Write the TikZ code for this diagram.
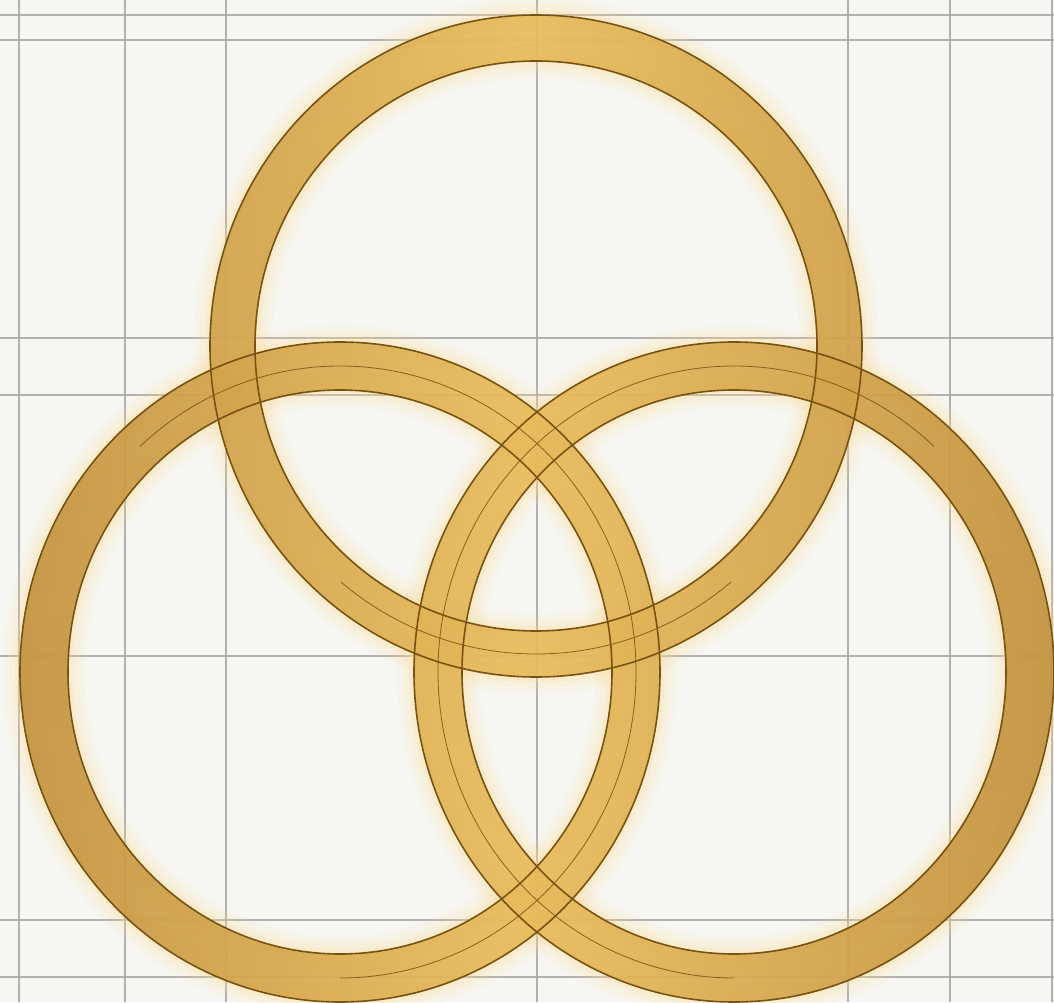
\documentclass[tikz,border=0pt]{standalone}
\usetikzlibrary{calc}
\definecolor{bg}{HTML}{F6F6F3}
\definecolor{gridc}{HTML}{A6A6A6}
\definecolor{goldlight}{HTML}{E8BC5C}
\definecolor{goldmid}{HTML}{BE8D3C}
\definecolor{golddark}{HTML}{A6772E}
\definecolor{edge}{HTML}{785212}
\definecolor{glowc}{HTML}{FFDC8C}
\pgfdeclarehorizontalshading{goldh}{100bp}{color(0bp)=(golddark); color(22bp)=(goldmid); color(50bp)=(goldlight); color(78bp)=(goldmid); color(100bp)=(golddark)}
\tikzset{
  gridline/.style={draw=gridc, line width=1.8pt, opacity=0.85},
  ringedge/.style={draw=edge, line width=1.6pt},
  midline/.style={draw=edge, line width=0.8pt, opacity=0.85},
  glowA/.style={draw=glowc, line width=34pt, opacity=0.09},
  glowB/.style={draw=glowc, line width=22pt, opacity=0.12},
  glowC/.style={draw=glowc, line width=10pt, opacity=0.20},
}
\begin{document}
\begin{tikzpicture}[x=1pt,y=1pt]
\useasboundingbox (0,0) rectangle (1054,1002);
\fill[bg] (0,0) rectangle (1054,1002);
% grid
\foreach \gx in {19,125,226,537,848,950,1052} {\draw[gridline] (\gx,0) -- (\gx,1002);}
\foreach \gy in {987,962,664,607,346,82,25} {\draw[gridline] (0,\gy) -- (1054,\gy);}
% centres
\coordinate (T) at (536,656);
\coordinate (L) at (340,330);
\coordinate (R) at (734,330);
% glow
\foreach \st in {glowA,glowB,glowC} {
  \draw[\st] (T) ellipse [x radius=326, y radius=331];
  \draw[\st] (T) ellipse [x radius=281, y radius=285];
  \draw[\st] (L) ellipse [x radius=320, y radius=330];
  \draw[\st] (L) ellipse [x radius=272, y radius=282];
  \draw[\st] (R) ellipse [x radius=320, y radius=330];
  \draw[\st] (R) ellipse [x radius=272, y radius=282];
}
% ring fills
\begin{scope}[even odd rule]
  \clip (T) ellipse [x radius=326, y radius=331] (T) ellipse [x radius=281, y radius=285];
  \shade[shading=goldh, fill opacity=0.93] (0,0) rectangle (1054,1002);
\end{scope}
\begin{scope}[even odd rule]
  \clip (L) ellipse [x radius=320, y radius=330] (L) ellipse [x radius=272, y radius=282];
  \shade[shading=goldh, fill opacity=0.93] (0,0) rectangle (1054,1002);
\end{scope}
\begin{scope}[even odd rule]
  \clip (R) ellipse [x radius=320, y radius=330] (R) ellipse [x radius=272, y radius=282];
  \shade[shading=goldh, fill opacity=0.93] (0,0) rectangle (1054,1002);
\end{scope}
% edges
\draw[ringedge] (T) ellipse [x radius=326, y radius=331];
\draw[ringedge] (T) ellipse [x radius=281, y radius=285];
\draw[ringedge] (L) ellipse [x radius=320, y radius=330];
\draw[ringedge] (L) ellipse [x radius=272, y radius=282];
\draw[ringedge] (R) ellipse [x radius=320, y radius=330];
\draw[ringedge] (R) ellipse [x radius=272, y radius=282];
% thin centre lines
\draw[midline] (T) ++(-130:303.5 and 308) arc [start angle=-130, end angle=-50, x radius=303.5, y radius=308];
\draw[midline] (L) ++(-90:296 and 306) arc [start angle=-90, end angle=132.5, x radius=296, y radius=306];
\draw[midline] (R) ++(47.5:296 and 306) arc [start angle=47.5, end angle=270, x radius=296, y radius=306];
\end{tikzpicture}
\end{document}
